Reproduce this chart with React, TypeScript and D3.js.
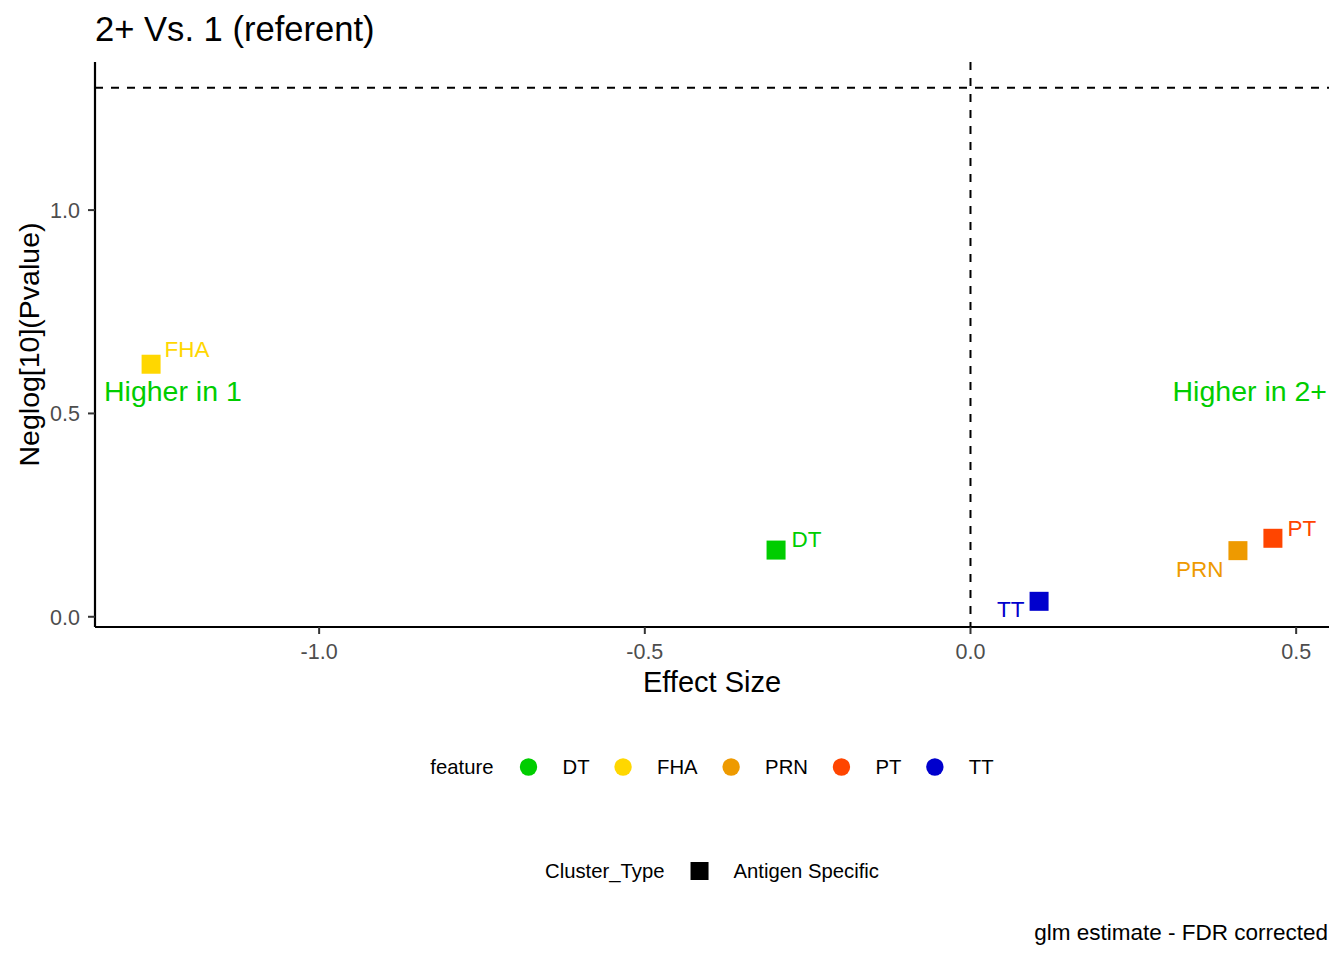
import * as d3 from "d3";
import { useEffect, useRef } from "react";

// values
const features = ["DT", "FHA", "PRN", "PT", "TT"];
const featureColors = ["#00CD00", "#FFD700", "#EE9A00", "#FF4500", "#0000CD"];
const effectSize = [-0.2985, -1.258, 0.4106, 0.4643, 0.1053];
const negLogP = [0.164, 0.621, 0.1626, 0.193, 0.038];
const clusterTypes = ["Antigen Specific"];
const xTicks = [-1.0, -0.5, 0.0, 0.5];
const yTicks = [0.0, 0.5, 1.0];
const pThreshold = 0.05;

// ggrepel-ish placement of the point labels (px offsets from the point)
const labelNudge: [number, number, string][] = [
  [15.5, -3.5, "start"],
  [13.5, -7.7, "start"],
  [-14.5, 26, "end"],
  [14.5, -2.5, "start"],
  [-14.6, 15.5, "end"],
];

const FONT = "'Liberation Sans', Arial, sans-serif";

const App = () => {
  const ref = useRef<SVGSVGElement | null>(null);

  useEffect(() => {
    document.body.style.margin = "0";
    const svg = d3.select(ref.current);
    svg.selectAll("*").remove();

    const width = 1344;
    const height = 960;
    svg.attr("width", width).attr("height", height).style("font-family", FONT);

    const panel = { left: 95, right: 1329, top: 62, bottom: 627 };
    const hLine = -Math.log10(pThreshold);

    const expand = (ext: [number, number]) => {
      const pad = (ext[1] - ext[0]) * 0.05;
      return [ext[0] - pad, ext[1] + pad];
    };
    const xExt = d3.extent(effectSize) as [number, number];
    const yExt = d3.extent([...negLogP, hLine]) as [number, number];

    const x = d3.scaleLinear().domain(expand(xExt)).range([panel.left, panel.right]);
    const y = d3.scaleLinear().domain(expand(yExt)).range([panel.bottom, panel.top]);

    svg.append("rect").attr("width", width).attr("height", height).attr("fill", "white");

    // reference lines
    svg
      .append("line")
      .attr("x1", panel.left)
      .attr("x2", panel.right)
      .attr("y1", y(hLine))
      .attr("y2", y(hLine))
      .attr("stroke", "black")
      .attr("stroke-width", 2)
      .attr("stroke-dasharray", "8,8");
    svg
      .append("line")
      .attr("x1", x(0))
      .attr("x2", x(0))
      .attr("y1", panel.top)
      .attr("y2", panel.bottom)
      .attr("stroke", "black")
      .attr("stroke-width", 2)
      .attr("stroke-dasharray", "8,8");

    // axes
    const axisG = svg.append("g");
    axisG
      .append("line")
      .attr("x1", panel.left)
      .attr("x2", panel.right)
      .attr("y1", panel.bottom)
      .attr("y2", panel.bottom)
      .attr("stroke", "black")
      .attr("stroke-width", 2.2);
    axisG
      .append("line")
      .attr("x1", panel.left)
      .attr("x2", panel.left)
      .attr("y1", panel.top)
      .attr("y2", panel.bottom)
      .attr("stroke", "black")
      .attr("stroke-width", 2.2);

    const fmt = (d: number) => d.toFixed(1);

    axisG
      .selectAll("line.xtick")
      .data(xTicks)
      .enter()
      .append("line")
      .attr("class", "xtick")
      .attr("x1", (d) => x(d))
      .attr("x2", (d) => x(d))
      .attr("y1", panel.bottom)
      .attr("y2", panel.bottom + 7)
      .attr("stroke", "#333333")
      .attr("stroke-width", 2);
    axisG
      .selectAll("text.xlab")
      .data(xTicks)
      .enter()
      .append("text")
      .attr("class", "xlab")
      .attr("x", (d) => x(d))
      .attr("y", panel.bottom + 32)
      .attr("text-anchor", "middle")
      .attr("font-size", 21.5)
      .attr("fill", "#4D4D4D")
      .text((d) => fmt(d));

    axisG
      .selectAll("line.ytick")
      .data(yTicks)
      .enter()
      .append("line")
      .attr("class", "ytick")
      .attr("x1", panel.left - 7)
      .attr("x2", panel.left)
      .attr("y1", (d) => y(d))
      .attr("y2", (d) => y(d))
      .attr("stroke", "#333333")
      .attr("stroke-width", 2);
    axisG
      .selectAll("text.ylab")
      .data(yTicks)
      .enter()
      .append("text")
      .attr("class", "ylab")
      .attr("x", panel.left - 15)
      .attr("y", (d) => y(d))
      .attr("dy", "0.36em")
      .attr("text-anchor", "end")
      .attr("font-size", 21.5)
      .attr("fill", "#4D4D4D")
      .text((d) => fmt(d));

    // axis titles
    svg
      .append("text")
      .attr("x", (panel.left + panel.right) / 2)
      .attr("y", 692)
      .attr("text-anchor", "middle")
      .attr("font-size", 29)
      .text("Effect Size");
    svg
      .append("text")
      .attr("transform", `translate(39, ${(panel.top + panel.bottom) / 2}) rotate(-90)`)
      .attr("text-anchor", "middle")
      .attr("font-size", 28.5)
      .text("Neglog[10](Pvalue)");

    // title
    svg
      .append("text")
      .attr("x", panel.left)
      .attr("y", 41)
      .attr("font-size", 34.6)
      .text("2+ Vs. 1 (referent)");

    // region annotations
    svg
      .append("text")
      .attr("x", panel.left + 9)
      .attr("y", 401)
      .attr("font-size", 28.5)
      .attr("fill", "#00CD00")
      .text("Higher in 1");
    svg
      .append("text")
      .attr("x", panel.right - 2)
      .attr("y", 401)
      .attr("text-anchor", "end")
      .attr("font-size", 28.5)
      .attr("fill", "#00CD00")
      .text("Higher in 2+");

    // points
    const pts = features.map((f, i) => ({
      f,
      c: featureColors[i],
      x: effectSize[i],
      y: negLogP[i],
      n: labelNudge[i],
    }));
    const sq = 19;
    svg
      .append("g")
      .selectAll("rect")
      .data(pts)
      .enter()
      .append("rect")
      .attr("x", (d) => x(d.x) - sq / 2)
      .attr("y", (d) => y(d.y) - sq / 2)
      .attr("width", sq)
      .attr("height", sq)
      .attr("fill", (d) => d.c);
    svg
      .append("g")
      .selectAll("text")
      .data(pts)
      .enter()
      .append("text")
      .attr("x", (d) => x(d.x) + d.n[0])
      .attr("y", (d) => y(d.y) + d.n[1])
      .attr("text-anchor", (d) => d.n[2])
      .attr("font-size", 22.5)
      .attr("fill", (d) => d.c)
      .text((d) => d.f);

    // legends, centred under the panel
    const centre = (panel.left + panel.right) / 2;
    const legendRow = (
      title: string,
      labels: string[],
      cy: number,
      drawKey: (g: d3.Selection<SVGGElement, unknown, null, undefined>, i: number) => void
    ) => {
      const g = svg.append("g");
      const t = g.append("text").attr("font-size", 20.3).attr("y", cy).attr("dy", "0.36em").text(title);
      const tw = (t.node() as SVGTextElement).getComputedTextLength();
      const lab = labels.map((l) =>
        g.append("text").attr("font-size", 20.3).attr("y", cy).attr("dy", "0.36em").text(l)
      );
      const lw = lab.map((s) => (s.node() as SVGTextElement).getComputedTextLength());
      const total = tw + 35 + d3.sum(lw) + labels.length * 34 + (labels.length - 1) * 33.5;
      let cx = centre - total / 2;
      t.attr("x", cx);
      cx += tw + 35;
      labels.forEach((_, i) => {
        const kg = g.append("g").attr("transform", `translate(${cx}, ${cy})`);
        drawKey(kg, i);
        lab[i].attr("x", cx + 34);
        cx += 34 + lw[i] + 33.5;
      });
    };

    legendRow("feature", features, 767, (g, i) => {
      g.append("circle").attr("r", 8.7).attr("fill", featureColors[i]);
    });
    legendRow("Cluster_Type", clusterTypes, 871, (g) => {
      g.append("rect").attr("x", -9).attr("y", -9).attr("width", 18).attr("height", 18).attr("fill", "black");
    });

    // caption
    svg
      .append("text")
      .attr("x", 1328)
      .attr("y", 940)
      .attr("text-anchor", "end")
      .attr("font-size", 22.5)
      .text("glm estimate - FDR corrected");
  }, []);

  return <svg ref={ref}></svg>;
};

export default App;
